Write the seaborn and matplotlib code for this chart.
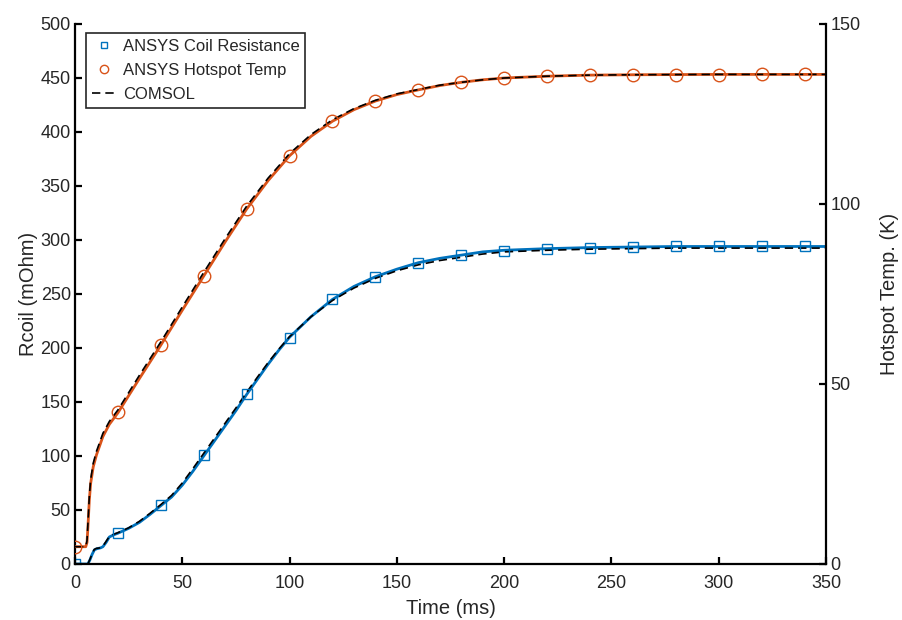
import numpy as np
import pandas as pd
import matplotlib
matplotlib.use("Agg")
import matplotlib.pyplot as plt
from matplotlib.lines import Line2D
import seaborn as sns

# ---------------- data ----------------
# ANSYS coil resistance (continuous curve), mOhm
t_coil = [0, 5, 6, 7, 8, 9, 10, 12, 13, 14.5, 16, 18, 20, 25, 30, 35, 40, 45, 50, 55, 60,
          65, 70, 75, 80, 85, 90, 95, 100, 110, 120, 130, 140, 150, 160, 170, 180, 190,
          200, 220, 240, 260, 280, 300, 350]
r_coil = [0, 0, 0, 4, 9, 13, 14, 15, 16, 20, 25, 27, 28.5, 33, 38.5, 46, 54, 62, 73, 86, 100,
          114, 128, 142, 157, 171, 185, 198, 210, 229, 245, 257, 266, 273, 279, 283, 286, 289,
          290.5, 292, 293, 293.5, 294, 294, 294]

# COMSOL coil resistance, mOhm
r_coil_comsol = [0, 0, 0, 4.5, 9.5, 13.5, 14.5, 15, 16.5, 21, 25.5, 27.5, 29, 33.5, 39.5, 47, 55, 63.5, 75, 88.5, 102.5,
                 116.5, 130.5, 144.5, 159, 173, 186.5, 199, 210.5, 229, 244, 255.5, 264.5, 271.5, 277, 281, 284, 287,
                 289, 290.5, 291.5, 292, 292.5, 292.5, 292.5]

# ANSYS hotspot temperature (continuous curve), K
t_temp = [0, 5, 5.6, 6, 6.7, 7.3, 8.5, 10, 13, 16, 20, 30, 40, 50, 60, 70, 80, 90, 100,
          110, 120, 130, 140, 150, 160, 170, 180, 190, 200, 220, 240, 260, 300, 350]
temp = [4.8, 4.8, 6, 10, 18, 22.4, 27, 30.3, 35.4, 38.8, 42, 51.5, 60.8, 70.5, 80, 89.5, 98.6, 106.5, 113.4,
        118.8, 123, 126.2, 128.6, 130.4, 131.7, 132.9, 133.8, 134.5, 135, 135.5, 135.8, 135.9, 136, 136]

# COMSOL hotspot temperature, K
temp_comsol = [4.8, 4.8, 6.5, 11, 19, 23.5, 28, 31.3, 36.3, 39.6, 42.8, 52.4, 61.7, 71.4, 81, 90.4, 99.4, 107.2, 114,
               119.3, 123.4, 126.5, 128.8, 130.6, 131.8, 133, 133.8, 134.5, 135, 135.5, 135.8, 135.9, 136, 136]

# ANSYS markers (every 20 ms)
t_mark = [0, 20, 40, 60, 80, 100, 120, 140, 160, 180, 200, 220, 240, 260, 280, 300, 320, 340]
r_mark = [0, 28.5, 54.5, 101, 157, 209, 245, 266, 279, 286, 290, 292, 293, 293.5, 294, 294, 294, 294]
temp_mark = [4.8, 42.2, 60.8, 80, 98.6, 113.4, 123, 128.6, 131.7, 133.8, 135, 135.5, 135.8, 135.9,
             135.9, 135.9, 136, 136]

x_ticks = [0, 50, 100, 150, 200, 250, 300, 350]
yl_ticks = [0, 50, 100, 150, 200, 250, 300, 350, 400, 450, 500]
yr_ticks = [0, 50, 100, 150]

BLUE = "#0072BD"
ORANGE = "#D95319"

# ---------------- style ----------------
sns.set_style("ticks")
plt.rcParams["font.family"] = ["Liberation Sans", "DejaVu Sans"]
plt.rcParams["xtick.direction"] = "in"
plt.rcParams["ytick.direction"] = "in"

fig = plt.figure(figsize=(9.02, 6.2), dpi=100)
ax = fig.add_axes([75 / 902, 56 / 620, 751 / 902, 540 / 620])
ax2 = ax.twinx()

df_coil = pd.DataFrame({"t": t_coil, "r": r_coil, "rc": r_coil_comsol})
df_temp = pd.DataFrame({"t": t_temp, "T": temp, "Tc": temp_comsol})
df_mark = pd.DataFrame({"t": t_mark, "r": r_mark, "T": temp_mark})

# left axis: coil resistance
sns.lineplot(data=df_coil, x="t", y="r", ax=ax, color=BLUE, lw=2.0, errorbar=None)
sns.lineplot(data=df_coil, x="t", y="rc", ax=ax, color="black", lw=1.2,
             linestyle=(0, (5, 3)), errorbar=None)
sns.lineplot(data=df_mark, x="t", y="r", ax=ax, color=BLUE, linestyle="none", marker="s",
             markersize=7, markerfacecolor="none", markeredgecolor=BLUE, markeredgewidth=1.0,
             errorbar=None)

# right axis: hotspot temperature
sns.lineplot(data=df_temp, x="t", y="T", ax=ax2, color=ORANGE, lw=2.0, errorbar=None)
sns.lineplot(data=df_temp, x="t", y="Tc", ax=ax2, color="black", lw=1.2,
             linestyle=(0, (5, 3)), errorbar=None)
sns.lineplot(data=df_mark, x="t", y="T", ax=ax2, color=ORANGE, linestyle="none", marker="o",
             markersize=9, markerfacecolor="none", markeredgecolor=ORANGE, markeredgewidth=1.0,
             errorbar=None)

ax.set_xlim(0, 350)
ax.set_ylim(0, 500)
ax2.set_ylim(0, 150)
ax.set_xticks(x_ticks)
ax.set_yticks(yl_ticks)
ax2.set_yticks(yr_ticks)

for a in (ax, ax2):
    a.spines["top"].set_visible(False)
    for s in ("left", "right", "bottom"):
        a.spines[s].set_linewidth(1.6)
        a.spines[s].set_color("black")
    a.tick_params(axis="both", which="major", length=5, width=1.6, labelsize=13,
                  colors="black", labelcolor="#262626", pad=3)
ax.tick_params(axis="x", pad=8)
ax.spines["right"].set_visible(False)
ax2.spines["left"].set_visible(False)
ax2.spines["bottom"].set_visible(False)
ax.tick_params(top=False, right=False)
ax2.tick_params(left=False, right=True)

ax.set_xlabel("Time (ms)", fontsize=14.5, color="#262626", labelpad=5)
ax.set_ylabel("Rcoil (mOhm)", fontsize=14.5, color="#262626", labelpad=2)
ax2.set_ylabel("Hotspot Temp. (K)", fontsize=14.5, color="#262626", labelpad=14)

handles = [
    Line2D([], [], color=BLUE, marker="s", linestyle="none", markersize=5,
           markerfacecolor="none", markeredgewidth=1.0),
    Line2D([], [], color=ORANGE, marker="o", linestyle="none", markersize=6,
           markerfacecolor="none", markeredgewidth=1.0),
    Line2D([], [], color="black", linestyle=(0, (5, 3)), lw=1.2),
]
labels = ["ANSYS Coil Resistance", "ANSYS Hotspot Temp", "COMSOL"]
leg = ax2.legend(handles, labels, loc="upper left", bbox_to_anchor=(11 / 751, 1 - 9 / 540),
                 fontsize=12, frameon=True, fancybox=False, edgecolor="#262626",
                 handlelength=1.5, handletextpad=0.35, borderpad=0.35, labelspacing=0.55,
                 borderaxespad=0)
leg.get_frame().set_linewidth(1.2)
leg.get_frame().set_alpha(1)

fig.savefig("out.png", dpi=100)
